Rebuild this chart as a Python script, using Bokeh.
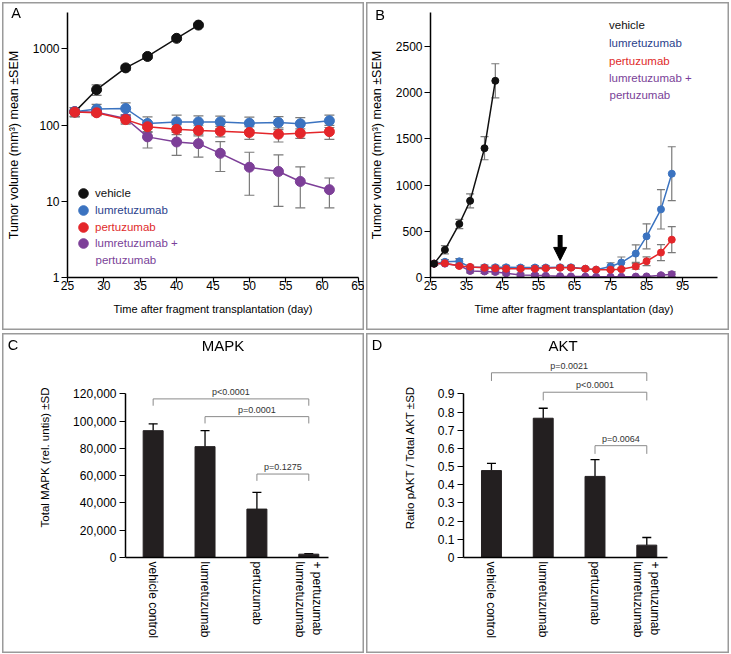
from bokeh.plotting import figure
from bokeh.layouts import row, column
from bokeh.models import (ColumnDataSource, Whisker, TeeHead, Legend, LegendItem, Label,
                          FixedTicker, NumeralTickFormatter, Range1d, Arrow, NormalHead, Div)
from bokeh.embed import file_html
from bokeh.resources import INLINE
from bokeh.core.properties import value

FONT = "Liberation Sans"
C_VEH, C_LUM, C_PER, C_COM = "#111111", "#3b73c0", "#e4262a", "#7d3f98"
T_VEH, T_LUM, T_PER, T_COM = "#111111", "#2b3f8c", "#e02a2a", "#7a3f98"
ERR = "#7a7a7a"
BORDER = {"box-shadow": "inset 0 0 0 1.5px #9a9a9a", "background": "white"}

# ---------------- Panel A (log scale) ----------------
days_a = [26, 29, 33, 36, 40, 43, 46, 50, 54, 57, 61]
vehicle_days_a = [26, 29, 33, 36, 40, 43]
vehicle_a = [149, 291, 563, 795, 1375, 2050]
vehicle_a_sem = [20, 45, 40, 50, 80, 120]
lumre_a = [150, 162, 165, 105, 110, 110, 110, 106, 108, 104, 114]
lumre_a_sem = [20, 25, 30, 23, 25, 22, 21, 21, 21, 21, 21]
pertu_a = [148, 145, 118, 95, 88, 85, 83, 80, 76, 78, 82]
pertu_a_sem = [20, 12, 15, 15, 13, 13, 13, 15, 16, 11, 17]
combo_a = [150, 147, 122, 70, 60, 57, 42.6, 28, 24.6, 18.2, 14.2]
combo_a_sem = [20, 10, 15, 20, 20, 19, 18, 16, 16, 10, 6]
a_xticks = [25, 30, 35, 40, 45, 50, 55, 60, 65]
a_yticks = [1, 10, 100, 1000]

# ---------------- Panel B (linear) ----------------
days_b = [26, 29, 33, 36, 40, 43, 46, 50, 54, 57, 61, 64, 68, 71, 75, 78, 82, 85, 89, 92]
vehicle_days_b = [26, 29, 33, 36, 40, 43]
vehicle_b = [150, 300, 580, 830, 1400, 2130]
vehicle_b_sem = [20, 45, 50, 75, 125, 185]
lumre_b = [150, 170, 175, 110, 110, 110, 110, 108, 108, 108, 110, 110, 95, 85, 120, 162, 259, 446, 738, 1124]
lumre_b_sem = [20, 25, 30, 25, 25, 22, 21, 21, 21, 21, 21, 21, 15, 10, 40, 60, 95, 135, 213, 292]
pertu_b = [150, 155, 125, 115, 105, 100, 95, 95, 95, 100, 105, 105, 95, 85, 85, 90, 120, 176, 270, 410]
pertu_b_sem = [20, 12, 15, 15, 13, 13, 13, 15, 16, 11, 17, 15, 12, 10, 10, 12, 30, 47, 87, 141]
combo_b = [150, 150, 130, 71, 65, 60, 45, 28, 25, 18, 14, 12, 10, 8, 8, 8, 10, 12, 25, 36]
combo_b_sem = [20, 10, 15, 20, 20, 20, 18, 16, 16, 10, 6, 5, 5, 4, 4, 4, 5, 6, 15, 25]
b_xticks = [25, 35, 45, 55, 65, 75, 85, 95]
b_yticks = [0, 500, 1000, 1500, 2000, 2500]
arrow_day, arrow_top, arrow_tip = 61, 460, 185

# ---------------- Panels C / D (bars) ----------------
groups = ["vehicle control", "lumretuzumab", "pertuzumab", "+ pertuzumab\nlumretuzumab"]
group_pos = [1, 2, 3, 4]
mapk = [93000, 81300, 35500, 2450]
mapk_sd = [5000, 11700, 12200, 300]
akt = [0.478, 0.766, 0.446, 0.068]
akt_sd = [0.040, 0.055, 0.092, 0.042]
c_yticks = [0, 20000, 40000, 60000, 80000, 100000, 120000]
d_yticks = [0, 0.1, 0.2, 0.3, 0.4, 0.5, 0.6, 0.7, 0.8, 0.9]
c_pairs = [(1, 4, 116300, "p<0.0001"), (2, 4, 103300, "p=0.0001"), (3, 4, 61200, "p=0.1275")]
d_pairs = [(1, 4, 1.016, "p=0.0021"), (2, 4, 0.909, "p<0.0001"), (3, 4, 0.615, "p=0.0064")]

# panel letters and titles: (text, page x, page y, font size)
panel_texts = [("A", 16, 13, 14.5), ("B", 380, 15, 14.5), ("C", 13, 345, 14.5),
               ("D", 377, 345, 14.5), ("MAPK", 223, 345, 15), ("AKT", 563, 345, 15)]


def style(p, xfs="11px", yfs="12.5px"):
    for ax in p.axis:
        ax.axis_line_width = 1.5
        ax.axis_line_color = "#000000"
        ax.major_tick_line_width = 1.2
        ax.major_tick_line_color = "#000000"
        ax.major_tick_in = 0
        ax.major_tick_out = 6
        ax.minor_tick_line_color = None
        ax.major_label_text_font = FONT
        ax.major_label_text_font_size = "12px"
        ax.major_label_text_color = "#000000"
        ax.axis_label_text_font = FONT
        ax.axis_label_text_font_style = "normal"
        ax.axis_label_text_color = "#000000"
    p.xaxis.axis_label_text_font_size = xfs
    p.yaxis.axis_label_text_font_size = yfs
    p.grid.visible = False
    p.outline_line_color = None
    p.background_fill_color = None
    p.border_fill_color = None
    p.styles = BORDER


def add_series(p, xs, ys, sem, color, size, cap):
    src = ColumnDataSource(dict(x=xs, y=ys, up=[v + s for v, s in zip(ys, sem)],
                                lo=[v - s for v, s in zip(ys, sem)]))
    p.add_layout(Whisker(source=src, base="x", upper="up", lower="lo", line_color=ERR,
                         line_width=1.2, level="underlay",
                         upper_head=TeeHead(size=cap, line_color=ERR, line_width=1.2),
                         lower_head=TeeHead(size=cap, line_color=ERR, line_width=1.2)))
    p.line("x", "y", source=src, line_color=color, line_width=1.5)
    return p.scatter("x", "y", source=src, size=size, fill_color=color, line_color=color)


def legend_entry(p, rend, label, color, x, yc):
    lg = Legend(items=[LegendItem(label=label, renderers=[rend])], location=(x, yc - 12),
                glyph_width=24, glyph_height=24, label_standoff=0, padding=0, margin=0,
                spacing=0, border_line_alpha=0, background_fill_alpha=0,
                label_text_font=FONT, label_text_font_size="11.5px", label_text_color=color,
                label_height=20)
    p.add_layout(lg)


def second_line(p, x, y):
    p.add_layout(Label(x=x, y=y, x_units="screen", y_units="screen", text="pertuzumab",
                       text_font=FONT, text_font_size="11.5px", text_color=T_COM,
                       text_align="left", text_baseline="middle"))


def time_axes(p):
    p.xaxis.major_tick_out = 5
    p.xaxis.major_label_standoff = -2
    p.xaxis.axis_label_standoff = 10
    p.yaxis.major_label_standoff = 2
    p.yaxis.axis_label_standoff = 9


# ---- A ----
pa = figure(width=362, height=328, y_axis_type="log", x_range=Range1d(25, 65),
            y_range=Range1d(1, 3000), output_backend="svg", toolbar_location=None,
            min_border_left=65, min_border_right=6, min_border_top=8, min_border_bottom=53)
pa.xaxis.ticker = FixedTicker(ticks=a_xticks)
pa.yaxis.ticker = FixedTicker(ticks=a_yticks)
pa.yaxis.major_label_overrides = {t: str(t) for t in a_yticks}
pa.xaxis.axis_label = "Time after fragment transplantation (day)"
pa.yaxis.axis_label = "Tumor volume (mm³) mean ±SEM"
style(pa)
time_axes(pa)
rv = add_series(pa, vehicle_days_a, vehicle_a, vehicle_a_sem, C_VEH, 10, 10)
rc = add_series(pa, days_a, combo_a, combo_a_sem, C_COM, 10, 10)
rl = add_series(pa, days_a, lumre_a, lumre_a_sem, C_LUM, 10, 10)
rp = add_series(pa, days_a, pertu_a, pertu_a_sem, C_PER, 10, 10)
lx = 4
legend_entry(pa, rv, "vehicle", T_VEH, lx, 84.3)
legend_entry(pa, rl, "lumretuzumab", T_LUM, lx, 67)
legend_entry(pa, rp, "pertuzumab", T_PER, lx, 50.3)
legend_entry(pa, rc, "lumretuzumab +", T_COM, lx, 33.7)
second_line(pa, lx + 24, 17.7)

# ---- B ----
pb = figure(width=363, height=328, x_range=Range1d(25, 104.7), y_range=Range1d(0, 2870),
            output_backend="svg", toolbar_location=None,
            min_border_left=63, min_border_right=12, min_border_top=10, min_border_bottom=53)
pb.xaxis.ticker = FixedTicker(ticks=b_xticks)
pb.yaxis.ticker = FixedTicker(ticks=b_yticks)
pb.xaxis.axis_label = "Time after fragment transplantation (day)"
pb.yaxis.axis_label = "Tumor volume (mm³) mean ±SEM"
style(pb)
time_axes(pb)
add_series(pb, days_b, combo_b, combo_b_sem, C_COM, 7, 8)
add_series(pb, days_b, lumre_b, lumre_b_sem, C_LUM, 7, 8)
add_series(pb, days_b, pertu_b, pertu_b_sem, C_PER, 7, 8)
add_series(pb, vehicle_days_b, vehicle_b, vehicle_b_sem, C_VEH, 7, 8)
pb.add_layout(Arrow(end=NormalHead(size=13, fill_color="black", line_color="black", line_width=1),
                    x_start=arrow_day, y_start=arrow_top, x_end=arrow_day, y_end=arrow_tip,
                    line_width=5, line_color="black"))
bx = 155
legend_entry(pb, rv, "vehicle", T_VEH, bx, 251.6)
legend_entry(pb, rl, "lumretuzumab", T_LUM, bx, 234)
legend_entry(pb, rp, "pertuzumab", T_PER, bx, 216.3)
legend_entry(pb, rc, "lumretuzumab +", T_COM, bx, 199)
second_line(pb, bx + 24, 183)


def bar_panel(vals, sds, yticks, y_end, ybound, ylab, pairs, drop, left, right, x0, x1, fmt, w):
    p = figure(width=w, height=320, x_range=Range1d(x0, x1), y_range=Range1d(0, y_end),
               output_backend="svg", toolbar_location=None,
               min_border_left=left, min_border_right=right, min_border_top=24,
               min_border_bottom=96)
    p.xaxis.ticker = FixedTicker(ticks=group_pos)
    p.xaxis.major_label_overrides = {g: n for g, n in zip(group_pos, groups)}
    p.yaxis.ticker = FixedTicker(ticks=yticks)
    p.yaxis.formatter = NumeralTickFormatter(format=fmt)
    p.yaxis.bounds = (0, ybound)
    p.yaxis.axis_label = ylab
    style(p, yfs="11.5px")
    p.xaxis.major_tick_out = 0
    p.xaxis.major_label_orientation = "vertical"
    p.xaxis.major_label_standoff = 4
    p.yaxis.major_label_standoff = 3
    p.yaxis.axis_label_standoff = 19
    src = ColumnDataSource(dict(x=group_pos, y=vals, up=[v + s for v, s in zip(vals, sds)]))
    p.vbar(x="x", top="y", width=0.385, source=src, fill_color="#231f20", line_color="#231f20")
    p.add_layout(Whisker(source=src, base="x", upper="up", lower="y", line_color="#000000",
                         line_width=1.3, lower_head=None,
                         upper_head=TeeHead(size=9, line_color="#000000", line_width=1.3)))
    xs, ys, tx, ty, tt = [], [], [], [], []
    for a, b, h, t in pairs:
        xs.append([a, a, b, b])
        ys.append([h - drop, h, h, h - drop])
        tx.append((a + b) / 2)
        ty.append(h)
        tt.append(t)
    p.multi_line(xs=xs, ys=ys, line_color="#8a8a8a", line_width=1)
    p.text(x=tx, y=ty, text=tt, text_font=value(FONT), text_font_size="9px",
           text_align="center", text_baseline="middle", y_offset=-7, text_color="#333333")
    return p


pc = bar_panel(mapk, mapk_sd, c_yticks, 146660, 120000, "Total MAPK (rel. untis) ±SD",
               c_pairs, 5000, 123, 36, 0.467, 4.38, "0,0", 362)
pd = bar_panel(akt, akt_sd, d_yticks, 1.1, 0.9, "Ratio pAKT / Total AKT ±SD",
               d_pairs, 0.045, 97, 62, 0.46, 4.4, "0[.]0", 363)

spans = "".join(
    f'<span style="position:fixed;left:{x}px;top:{y}px;transform:translate(-50%,-50%);'
    f"font-family:'{FONT}';font-size:{s}px;line-height:1;color:#000;white-space:nowrap\">{t}</span>"
    for t, x, y, s in panel_texts)
texts = Div(text=spans, width=0, height=0, margin=0,
            styles={"position": "fixed", "left": "0px", "top": "0px", "overflow": "visible",
                    "z-index": "10"})

layout = column(row(pa, pb, spacing=2), row(pc, pd, spacing=2), texts, spacing=3,
                margin=(2, 0, 0, 2))
open("out.html", "w").write(file_html(layout, INLINE))
